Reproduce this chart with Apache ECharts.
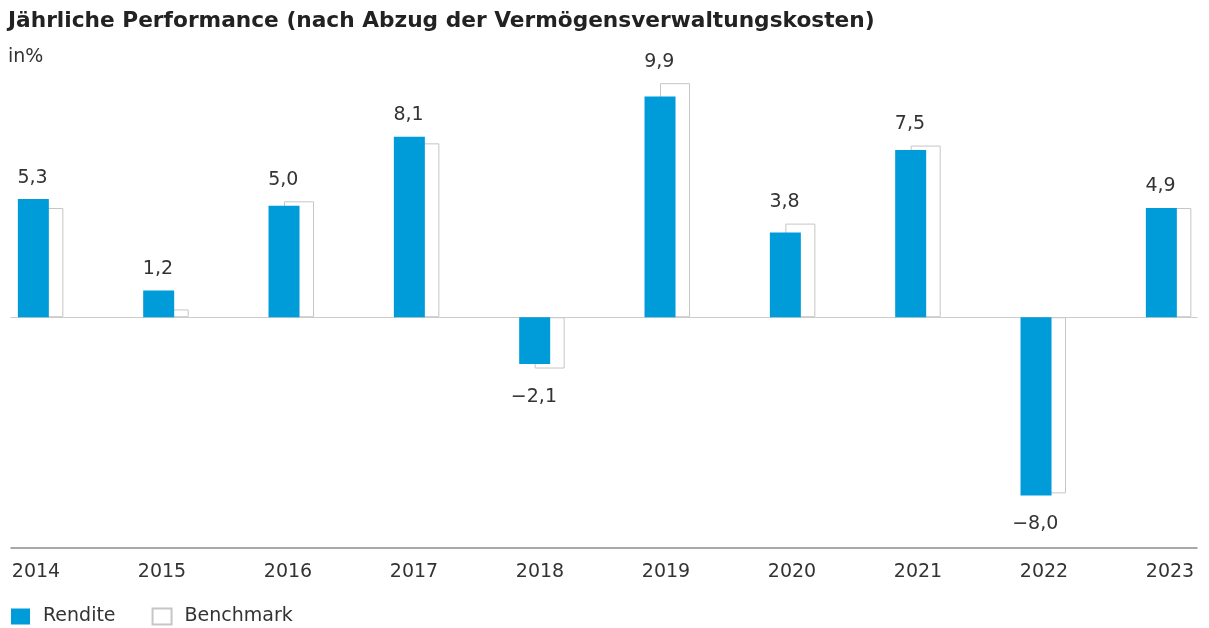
<!DOCTYPE html>
<html>
<head>
<meta charset="utf-8">
<script src="https://cdn.jsdelivr.net/npm/echarts@6/dist/echarts.min.js"></script>
<style>
  html, body { margin: 0; padding: 0; background: #fff; }
  #main { width: 1209px; height: 628px; }
</style>
</head>
<body>
<div id="main"></div>
<script>
// Jährliche Performance – Rendite vs. Benchmark
var years = ['2014', '2015', '2016', '2017', '2018', '2019', '2020', '2021', '2022', '2023'];
var rendite = [5.3, 1.2, 5.0, 8.1, -2.1, 9.9, 3.8, 7.5, -8.0, 4.9];
var benchmark = [4.9, 0.35, 5.2, 7.8, -2.3, 10.5, 4.2, 7.7, -7.9, 4.9];

var BLUE = '#009bd9';
var FONT = 'DejaVu Sans';
var TXT = '#333333';

// Wertelabel sitzen über/unter dem längeren der beiden Balken
var labelPoints = rendite.map(function (r, i) {
    var b = benchmark[i];
    var v = r >= 0 ? Math.max(r, b) : Math.min(r, b);
    return {
        value: v,
        label: {position: r >= 0 ? 'top' : 'bottom', distance: r >= 0 ? 12 : 19},
        txt: (r < 0 ? '\u2212' : '') + Math.abs(r).toFixed(1).replace('.', ',')
    };
});

var chart = echarts.init(document.getElementById('main'));

var option = {
    animation: false,
    title: [
        {
            text: 'Jährliche Performance (nach Abzug der Vermögensverwaltungskosten)',
            left: 8,
            top: 10,
            padding: 0,
            textStyle: {fontFamily: FONT, fontSize: 21.7, fontWeight: 'bold', color: '#222'}
        },
        {
            text: 'in%',
            left: 8,
            top: 48,
            padding: 0,
            textStyle: {fontFamily: FONT, fontSize: 19, fontWeight: 'normal', color: TXT}
        }
    ],
    legend: {
        left: 11,
        top: 607,
        padding: 0,
        itemWidth: 19,
        itemHeight: 16,
        itemGap: 36,
        icon: 'rect',
        textStyle: {fontFamily: FONT, fontSize: 19, color: TXT, padding: [0, 0, 0, 8]},
        data: ['Rendite', 'Benchmark']
    },
    grid: [
        {left: 40.6, right: 40.4, top: 72, bottom: 80},   // Balken
        {left: 11, right: 12, top: 72, bottom: 80},       // Linien
        {left: 36, right: 39, top: 72, bottom: 80}        // Jahreszahlen
    ],
    xAxis: [
        {
            type: 'category',
            gridIndex: 0,
            data: years,
            boundaryGap: false,
            show: false,
            axisLine: {onZero: false}
        },
        {
            // Nulllinie
            type: 'value',
            gridIndex: 1,
            min: 0, max: 1,
            axisLine: {show: true, onZero: true, lineStyle: {color: '#cccccc', width: 1}},
            axisTick: {show: false},
            axisLabel: {show: false},
            splitLine: {show: false}
        },
        {
            // Grundlinie unten
            type: 'value',
            gridIndex: 1,
            position: 'bottom',
            min: 0, max: 1,
            axisLine: {show: true, onZero: false, lineStyle: {color: '#8c8c8c', width: 1.5}},
            axisTick: {show: false},
            axisLabel: {show: false},
            splitLine: {show: false}
        },
        {
            type: 'category',
            gridIndex: 2,
            data: years,
            boundaryGap: false,
            axisLine: {show: false, onZero: false},
            axisTick: {show: false},
            splitLine: {show: false},
            axisLabel: {fontFamily: FONT, fontSize: 19, color: TXT, margin: 15, interval: 0}
        }
    ],
    yAxis: [
        {type: 'value', gridIndex: 0, min: -10.35, max: 11, show: false},
        {type: 'value', gridIndex: 1, min: -10.35, max: 11, show: false},
        {type: 'value', gridIndex: 2, min: -10.35, max: 11, show: false}
    ],
    series: [
        {
            name: 'Rendite',
            type: 'bar',
            xAxisIndex: 0,
            yAxisIndex: 0,
            barWidth: 31,
            barGap: '-50%',
            clip: false,
            z: 4,
            itemStyle: {color: BLUE},
            data: rendite
        },
        {
            name: 'Benchmark',
            type: 'bar',
            xAxisIndex: 0,
            yAxisIndex: 0,
            barWidth: 30,
            clip: false,
            z: 3,
            itemStyle: {color: '#ffffff', borderColor: '#c6c6c6', borderWidth: 1},
            data: benchmark
        },
        {
            name: 'labels',
            type: 'scatter',
            xAxisIndex: 0,
            yAxisIndex: 0,
            symbolSize: 0,
            clip: false,
            silent: true,
            z: 5,
            itemStyle: {opacity: 1},
            label: {
                show: true,
                offset: [-8, 0],
                fontFamily: FONT,
                fontSize: 19,
                color: TXT,
                opacity: 1,
                formatter: function (p) { return labelPoints[p.dataIndex].txt; }
            },
            data: labelPoints.map(function (d) { return {value: d.value, label: d.label}; })
        }
    ]
};

chart.setOption(option);
</script>
</body>
</html>
